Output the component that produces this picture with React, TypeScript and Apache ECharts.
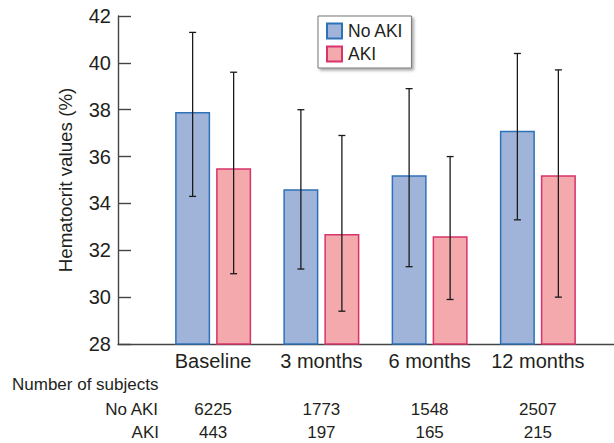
import React, { useEffect, useRef } from "react";
import * as echarts from "echarts";

const categories = ["Baseline", "3 months", "6 months", "12 months"];
const noAkiMean = [37.9, 34.6, 35.2, 37.1];
const noAkiLow = [34.3, 31.2, 31.3, 33.3];
const noAkiHigh = [41.3, 38.0, 38.9, 40.4];
const akiMean = [35.5, 32.7, 32.6, 35.2];
const akiLow = [31.0, 29.4, 29.9, 30.0];
const akiHigh = [39.6, 36.9, 36.0, 39.7];
const noAkiCounts = ["6225", "1773", "1548", "2507"];
const akiCounts = ["443", "197", "165", "215"];
const yTicks = { min: 28, max: 42, interval: 2 };

const FONT = "'Liberation Sans', Arial, sans-serif";
const TEXT = "#231f20";
const BAR_W = 35;
const GAP_PX = 6;

export default function App() {
  const ref = useRef<HTMLDivElement>(null);
  useEffect(() => {
    if (!ref.current) return;
    const chart = echarts.init(ref.current, null, { renderer: "svg" });

    const errSeries = (low: number[], high: number[], sign: number, name: string) => ({
      type: "custom",
      name: name + "-err",
      xAxisIndex: 1,
      yAxisIndex: 1,
      z: 10,
      silent: true,
      data: low.map((l, i) => [i, l, high[i]]),
      renderItem: (params: any, api: any) => {
        const idx = api.value(0);
        const lo = api.coord([idx, api.value(1)]);
        const hi = api.coord([idx, api.value(2)]);
        const x = lo[0] + sign * (BAR_W + GAP_PX) / 2;
        const cap = 3.5;
        const style = { stroke: "#1a1a1a", lineWidth: 1.3, fill: "none" };
        return {
          type: "group",
          children: [
            { type: "line", shape: { x1: x, y1: hi[1], x2: x, y2: lo[1] }, style },
            { type: "line", shape: { x1: x - cap, y1: hi[1], x2: x + cap, y2: hi[1] }, style },
            { type: "line", shape: { x1: x - cap, y1: lo[1], x2: x + cap, y2: lo[1] }, style },
          ],
        };
      },
    });

    const option: any = {
      animation: false,
      textStyle: { fontFamily: FONT, color: TEXT },
      grid: [
        { left: 118, right: 0, top: 16, bottom: 99 },
        { left: 159, right: 22, top: 16, bottom: 99 },
      ],
      xAxis: [
        {
          type: "value",
          gridIndex: 0,
          min: 0,
          max: 1,
          axisLine: { show: true, lineStyle: { color: "#444", width: 1.4 } },
          axisTick: { show: false },
          axisLabel: { show: false },
          splitLine: { show: false },
        },
        {
          type: "category",
          gridIndex: 1,
          data: categories,
          axisLine: { show: false },
          axisTick: { show: false },
          axisLabel: { interval: 0, fontSize: 20, color: TEXT, margin: 7, fontFamily: FONT },
        },
        {
          type: "category",
          gridIndex: 1,
          position: "bottom",
          offset: 49,
          data: noAkiCounts,
          axisLine: { show: false },
          axisTick: { show: false },
          axisLabel: { interval: 0, fontSize: 17, color: TEXT, margin: 8, fontFamily: FONT },
        },
        {
          type: "category",
          gridIndex: 1,
          position: "bottom",
          offset: 72,
          data: akiCounts,
          axisLine: { show: false },
          axisTick: { show: false },
          axisLabel: { interval: 0, fontSize: 17, color: TEXT, margin: 8, fontFamily: FONT },
        },
      ],
      yAxis: [
        {
          type: "value",
          gridIndex: 0,
          min: yTicks.min,
          max: yTicks.max,
          interval: yTicks.interval,
          show: false,
        },
        {
          type: "value",
          gridIndex: 1,
          offset: 41,
          min: yTicks.min,
          max: yTicks.max,
          interval: yTicks.interval,
          name: "Hematocrit values (%)",
          nameLocation: "middle",
          nameRotate: 90,
          nameGap: 43,
          nameTextStyle: { fontSize: 18.8, color: TEXT, fontFamily: FONT },
          axisLine: { show: true, lineStyle: { color: "#444", width: 1.4 } },
          axisTick: { show: true, inside: true, length: 13, lineStyle: { color: "#444", width: 1.4 } },
          axisLabel: { fontSize: 20, color: TEXT, margin: 7, fontFamily: FONT },
          splitLine: { show: false },
        },
      ],
      legend: {
        left: 318,
        top: 16,
        orient: "vertical",
        padding: [6, 8, 5, 8],
        itemWidth: 15,
        itemHeight: 15,
        itemGap: 5,
        icon: "rect",
        backgroundColor: "#fff",
        borderColor: "#777",
        borderWidth: 1,
        shadowBlur: 3,
        shadowColor: "rgba(0,0,0,0.35)",
        shadowOffsetX: 2,
        shadowOffsetY: 2,
        textStyle: { fontSize: 17.5, color: TEXT, fontFamily: FONT, padding: [0, 0, 0, 1] },
        data: ["No AKI", "AKI"],
      },
      graphic: [
        { type: "text", left: 12, top: 376, style: { text: "Number of subjects", fontSize: 17, fill: TEXT, fontFamily: FONT } },
        { type: "text", right: 614 - 159, top: 401, style: { text: "No AKI", fontSize: 17, fill: TEXT, fontFamily: FONT, align: "right" } },
        { type: "text", right: 614 - 159, top: 424, style: { text: "AKI", fontSize: 17, fill: TEXT, fontFamily: FONT, align: "right" } },
      ],
      series: [
        {
          type: "bar",
          name: "No AKI",
          xAxisIndex: 1,
          yAxisIndex: 1,
          data: noAkiMean,
          barWidth: BAR_W,
          barGap: (GAP_PX / BAR_W) * 100 + "%",
          itemStyle: { color: "#a0b4d9", borderColor: "#2d72b8", borderWidth: 1.5 },
        },
        {
          type: "bar",
          name: "AKI",
          xAxisIndex: 1,
          yAxisIndex: 1,
          data: akiMean,
          barWidth: BAR_W,
          barGap: (GAP_PX / BAR_W) * 100 + "%",
          itemStyle: { color: "#f4a9ad", borderColor: "#d8336a", borderWidth: 1.5 },
        },
        errSeries(noAkiLow, noAkiHigh, -1, "No AKI"),
        errSeries(akiLow, akiHigh, 1, "AKI"),
      ],
    };
    chart.setOption(option);
    return () => chart.dispose();
  }, []);
  return <div ref={ref} style={{ width: 614, height: 443, position: "absolute", left: 0, top: 0 }} />;
}
